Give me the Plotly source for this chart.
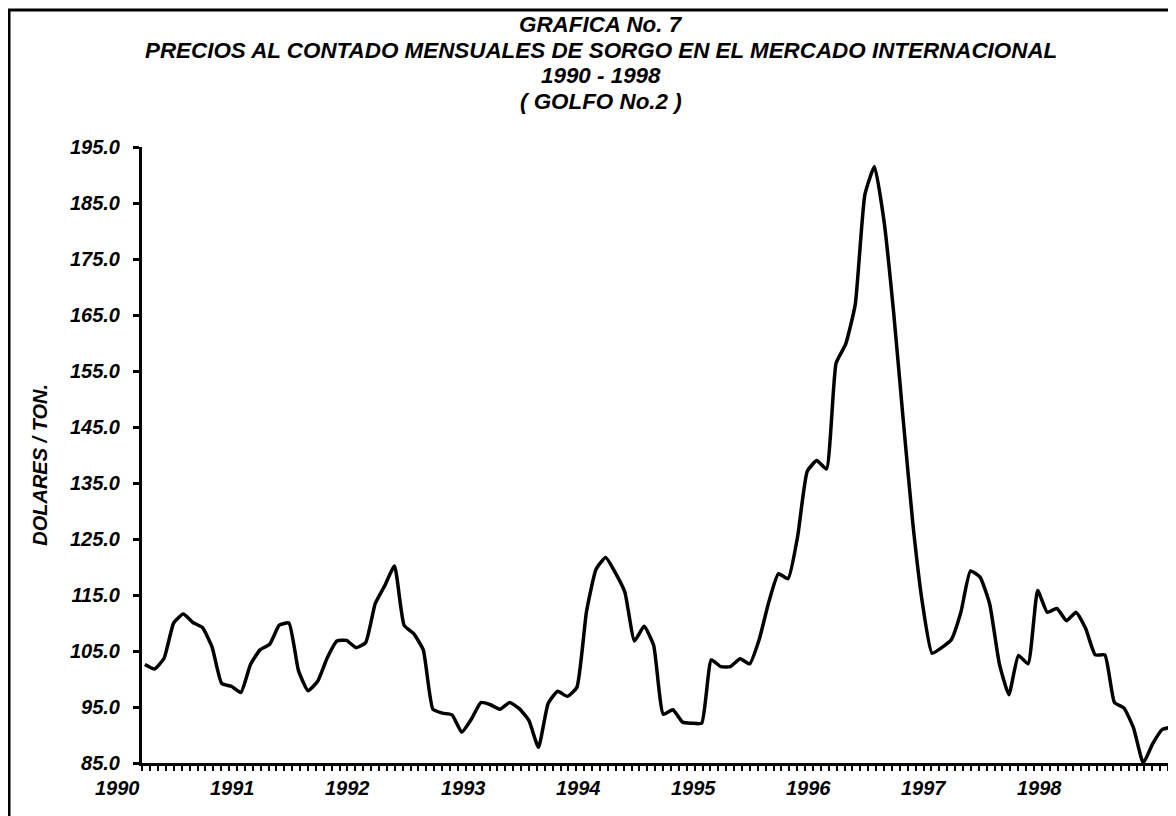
import plotly.graph_objects as go

# ---------------- data ----------------
YEARS = ["1990", "1991", "1992", "1993", "1994", "1995", "1996", "1997", "1998"]

# monthly spot price, US$/ton, Jan 1990 .. Dec 1998
PRICES = [
    102.6, 101.8, 103.7, 110.0, 111.6, 110.1, 109.2, 105.7, 99.2, 98.7, 97.6, 102.6,   # 1990
    105.2, 106.2, 109.6, 110.0, 101.5, 97.9, 99.6, 103.8, 106.8, 106.9, 105.6, 106.5,  # 1991
    113.5, 116.7, 120.2, 109.6, 108.1, 105.2, 94.6, 93.9, 93.6, 90.5, 92.8, 95.8,      # 1992
    95.4, 94.6, 95.8, 94.7, 92.6, 87.8, 95.6, 97.8, 96.9, 98.5, 112.0, 119.6,          # 1993
    121.7, 119.0, 115.5, 106.8, 109.4, 106.0, 93.7, 94.5, 92.3, 92.1, 92.1, 103.4,     # 1994
    102.2, 102.2, 103.6, 102.7, 107.1, 113.8, 118.8, 117.9, 125.5, 137.1, 139.0, 137.5, # 1995
    156.4, 159.8, 166.9, 186.5, 191.5, 181.7, 165.4, 146.2, 127.7, 113.5, 104.6, 105.6, # 1996
    107.0, 111.9, 119.3, 118.2, 113.4, 102.8, 97.2, 104.2, 102.7, 115.8, 111.9, 112.6, # 1997
    110.4, 111.9, 109.0, 104.3, 104.3, 95.8, 94.8, 91.2, 85.0, 88.5, 91.0, 91.4,       # 1998
]
MONTHS = list(range(len(PRICES)))

Y_TICKS = [85, 95, 105, 115, 125, 135, 145, 155, 165, 175, 185, 195]

TITLE_LINES = [
    "GRAFICA No. 7",
    "PRECIOS AL CONTADO MENSUALES DE SORGO EN EL MERCADO INTERNACIONAL",
    "1990 - 1998",
    "( GOLFO No.2 )",
]
Y_TITLE = "DOLARES / TON."

# ---------------- layout constants ----------------
OFF = 8                      # page body margin of the html page
W, H = 1176 - OFF, 816 - OFF
L, T, R = 142 - OFF, 147 - OFF, 0
B = H - (763.5 - OFF)
PW, PH = W - L - R, H - T - B
FONT = "Liberation Sans, Arial, Helvetica, sans-serif"
X_RANGE = [-0.30, 107.41]


def px_x(px):
    """screen x (page px) -> paper x"""
    return (px - OFF - L) / PW


def px_y(py):
    """screen y (page px) -> paper y"""
    return (H - B - (py - OFF)) / PH


def month_to_paper(m):
    return (m - X_RANGE[0]) / (X_RANGE[1] - X_RANGE[0])


fig = go.Figure()
fig.add_trace(go.Scatter(
    x=MONTHS, y=PRICES, mode="lines",
    line=dict(color="black", width=3.5, shape="spline", smoothing=0.45),
    hoverinfo="skip", showlegend=False,
))

base_font = dict(family=FONT, color="black", weight="bold", style="italic")

fig.update_layout(
    width=W, height=H,
    margin=dict(l=L, r=R, t=T, b=B, pad=0),
    paper_bgcolor="white", plot_bgcolor="white",
    showlegend=False,
    font=dict(size=20, **base_font),
)

fig.update_xaxes(
    range=X_RANGE,
    showgrid=False, zeroline=False,
    showline=True, linecolor="black", linewidth=3,
    ticks="outside", ticklen=5, tickwidth=2, tickcolor="black",
    tickmode="linear", tick0=-0.27, dtick=0.822,
    showticklabels=False,
)
fig.update_yaxes(
    range=[85, 195],
    showgrid=False, zeroline=False,
    showline=True, linecolor="black", linewidth=3,
    ticks="outside", ticklen=6, tickwidth=2.5, tickcolor="black",
    tickvals=Y_TICKS, ticktext=[f"{v:.1f}" for v in Y_TICKS],
    tickfont=dict(size=20, **base_font),
    ticklabelstandoff=9,
)

# year labels under the axis (one every 12 months)
for k, yr in enumerate(YEARS):
    fig.add_annotation(
        x=month_to_paper(12 * k - 2.85), xref="paper", y=px_y(789), yref="paper",
        text=yr, showarrow=False, xanchor="center", yanchor="middle",
        font=dict(size=20, **base_font),
    )

# title lines
for line, yc in zip(TITLE_LINES, [24, 50, 75.5, 101]):
    fig.add_annotation(
        x=px_x(601), xref="paper", y=px_y(yc), yref="paper",
        text=line, showarrow=False, xanchor="center", yanchor="middle",
        font=dict(size=22.4, **base_font),
    )

# y-axis title
fig.add_annotation(
    x=px_x(40), xref="paper", y=px_y(465), yref="paper",
    text=Y_TITLE, textangle=-90, showarrow=False,
    xanchor="center", yanchor="middle",
    font=dict(size=20, **base_font),
)

# outer frame (cropped at right and bottom)
fig.add_shape(
    type="rect", xref="paper", yref="paper",
    x0=px_x(9), x1=px_x(1176 + 40), y0=px_y(816 + 40), y1=px_y(10),
    line=dict(color="black", width=3), fillcolor="rgba(0,0,0,0)",
)

fig.write_html("out.html")
